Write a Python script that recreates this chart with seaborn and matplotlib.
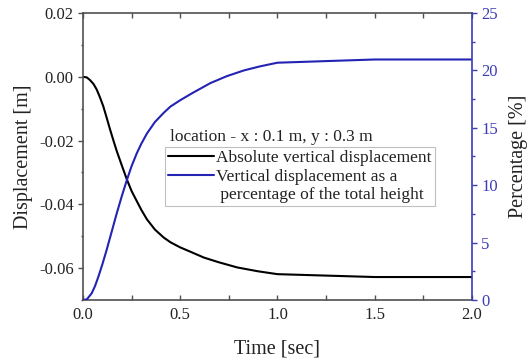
"""Vertical displacement history at one monitoring point, with percentage of height on a twin axis."""

import matplotlib

matplotlib.use("Agg")
import matplotlib.pyplot as plt
import pandas as pd
import seaborn as sns
from matplotlib.lines import Line2D
from matplotlib.ticker import MultipleLocator

# black curve: absolute vertical displacement [m]
TIME_DISP = [0.0, 0.02, 0.036, 0.055, 0.071, 0.088, 0.105, 0.122, 0.14, 0.157, 0.174, 0.2,
             0.226, 0.25, 0.277, 0.3, 0.329, 0.37, 0.415, 0.45, 0.5, 0.55, 0.622, 0.7,
             0.794, 0.9, 1.0, 1.5, 2.0]
DISP = [0.0, -0.0002, -0.001, -0.0023, -0.004, -0.0065, -0.0093, -0.0128, -0.0166, -0.0200,
        -0.0233, -0.0278, -0.0322, -0.0358, -0.039, -0.0417, -0.0447, -0.0479, -0.0504,
        -0.0519, -0.0535, -0.0548, -0.0567, -0.0582, -0.0598, -0.0610, -0.0619, -0.0628,
        -0.0628]

# blue curve: vertical displacement as percentage of total height [%]
TIME_PCT = [0.0, 0.02, 0.045, 0.062, 0.079, 0.1, 0.122, 0.148, 0.174, 0.2, 0.226, 0.25,
            0.277, 0.3, 0.329, 0.37, 0.415, 0.45, 0.5, 0.56, 0.656, 0.74, 0.828, 0.91,
            1.0, 1.5, 2.0]
PCT = [0.0, 0.05, 0.58, 1.2, 2.0, 3.1, 4.36, 5.95, 7.55, 9.05, 10.45, 11.65, 12.78, 13.6,
       14.5, 15.5, 16.3, 16.85, 17.4, 18.0, 18.9, 19.5, 20.0, 20.35, 20.67, 20.95, 20.95]

LEGEND_TITLE = "location - x : 0.1 m, y : 0.3 m"
LABEL_DISP = "Absolute vertical displacement"
LABEL_PCT = "Vertical displacement as a"
LABEL_PCT_CONT = " percentage of the total height"

BLUE = "#2323b4"
AXIS_BLUE = "#3c3cb4"
GRAY = "#505050"
TEXT = "#222222"


def main():
    sns.set_theme(style="ticks")
    plt.rcParams["font.family"] = ["Liberation Serif", "DejaVu Serif"]

    disp = pd.DataFrame({"time": TIME_DISP, "value": DISP})
    pct = pd.DataFrame({"time": TIME_PCT, "value": PCT})

    fig, ax = plt.subplots(figsize=(5.28, 3.61), dpi=100)
    fig.subplots_adjust(left=0.157, right=0.894, top=0.964, bottom=0.169)
    ax2 = ax.twinx()

    sns.lineplot(data=disp, x="time", y="value", color="black", linewidth=1.5,
                 label=LABEL_DISP, ax=ax)
    sns.lineplot(data=pct, x="time", y="value", color=BLUE, linewidth=1.5,
                 label=LABEL_PCT, ax=ax2)

    ax.set_xlim(0, 2.0)
    ax.set_ylim(-0.07, 0.02)
    ax2.set_ylim(0, 25)

    ax.xaxis.set_major_locator(MultipleLocator(0.5))
    ax.xaxis.set_minor_locator(MultipleLocator(0.25))
    ax.yaxis.set_major_locator(MultipleLocator(0.02))
    ax.yaxis.set_minor_locator(MultipleLocator(0.01))
    ax2.yaxis.set_major_locator(MultipleLocator(5))
    ax2.yaxis.set_minor_locator(MultipleLocator(2.5))
    ax.xaxis.set_major_formatter(lambda v, _: f"{v:.1f}")
    ax.yaxis.set_major_formatter(lambda v, _: f"{v:.2f}")

    ax.tick_params(axis="x", which="both", direction="in", top=True, bottom=True,
                   colors=GRAY, labelcolor=TEXT, labelsize=12, pad=5,
                   length=3.5, width=1)
    ax.tick_params(axis="y", which="both", direction="out", colors=GRAY,
                   labelcolor=TEXT, labelsize=12, pad=3)
    ax.tick_params(axis="y", which="major", length=3.6, width=1)
    ax.tick_params(axis="y", which="minor", length=1.8, width=1)
    ax2.tick_params(axis="y", which="both", direction="out", colors=AXIS_BLUE,
                    labelcolor=AXIS_BLUE, labelsize=12, pad=3)
    ax2.tick_params(axis="y", which="major", length=3.6, width=1)
    ax2.tick_params(axis="y", which="minor", length=1.8, width=1)

    for side in ["left", "bottom", "top"]:
        ax.spines[side].set_color(GRAY)
        ax.spines[side].set_linewidth(1.2)
        ax2.spines[side].set_visible(False)
    ax.spines["right"].set_visible(False)
    ax2.spines["right"].set_color(AXIS_BLUE)
    ax2.spines["right"].set_linewidth(1.2)

    ax.set_xlabel("Time [sec]", fontsize=14.5, color=TEXT, labelpad=12)
    ax.set_ylabel("Displacement [m]", fontsize=14.5, color=TEXT, labelpad=4)
    ax2.set_ylabel("Percentage [%]", fontsize=14.5, color=TEXT, labelpad=8)

    h1, l1 = ax.get_legend_handles_labels()
    h2, l2 = ax2.get_legend_handles_labels()
    ax.get_legend().remove()
    ax2.get_legend().remove()
    blank = Line2D([], [], linestyle="none")
    leg = ax2.legend(h1 + h2 + [blank], l1 + l2 + [LABEL_PCT_CONT], loc="upper left",
                     bbox_to_anchor=(0.211, 0.534), borderaxespad=0, frameon=True,
                     fancybox=False, fontsize=12.5, handlelength=2.6,
                     handletextpad=0.15, labelspacing=0.12, borderpad=0.2)
    leg.get_frame().set_edgecolor("#b0b0b0")
    leg.get_frame().set_linewidth(0.8)
    for text in leg.get_texts():
        text.set_color(TEXT)
    ax2.text(0.224, 0.568, LEGEND_TITLE, transform=ax.transAxes, fontsize=12.5,
             ha="left", va="center", color=TEXT)

    fig.savefig("out.png", dpi=100)
    plt.close(fig)


if __name__ == "__main__":
    main()
